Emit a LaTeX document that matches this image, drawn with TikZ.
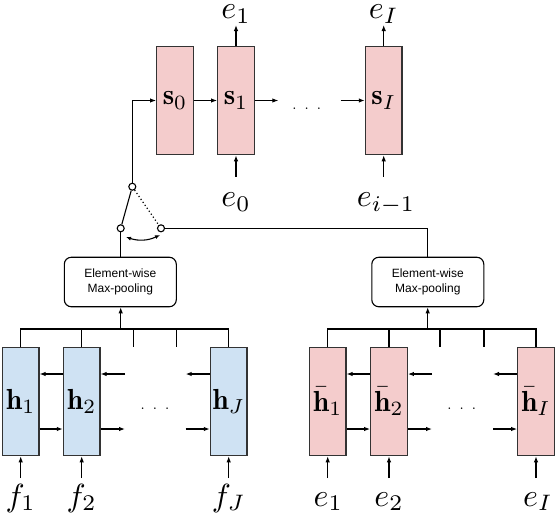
\documentclass[tikz,border=0pt]{standalone}
\usepackage{graphicx}
\usepackage{fontspec}
\usetikzlibrary{arrows.meta}
\newfontfamily\helv{Liberation Sans}
\definecolor{pinkc}{RGB}{244,204,204}
\definecolor{bluec}{RGB}{207,226,243}
\newcommand\cellt[1]{\scalebox{2.9}{$#1$}}
\newcommand\labt[1]{\scalebox{3.2}{$#1$}}
\newcommand\dotst{\scalebox{1.5}{.\hspace{5.4pt}.\hspace{5.4pt}.}}
\begin{document}
\begin{tikzpicture}[x=1pt,y=-1pt,
  cell/.style={draw=black!80, line width=1.2pt, minimum width=36.7pt, minimum height=108.4pt, inner sep=0pt},
  dec/.style={cell, fill=pinkc},
  enc/.style={cell, fill=bluec},
  pool/.style={draw=black, line width=1.1pt, rounded corners=7pt, minimum width=112pt, minimum height=49.5pt, align=center, inner sep=0pt, font=\helv\fontsize{12}{15.6}\selectfont},
  conn/.style={line width=1.1pt},
  arr/.style={conn, -{Latex[length=6pt,width=4.5pt]}},
  lab/.style={anchor=base, inner sep=0pt},
  sw/.style={circle, draw, line width=1.1pt, fill=white, minimum size=7pt, inner sep=0pt},
  dotsn/.style={inner sep=0pt}
]
\useasboundingbox (0,0) rectangle (556,514);
% decoder
\node[dec] (s0) at (175,100.5) {\cellt{\mathbf{s}_0}};
\node[dec] (s1) at (236,100.5) {\cellt{\mathbf{s}_1}};
\node[dec] (sI) at (383.7,100.5) {\cellt{\mathbf{s}_I}};
\node[dotsn] (dd) at (306.7,108.5) {\dotst};
\coordinate (d1) at (278.3,100.5);
\coordinate (d2) at (340.7,100.5);
\draw[arr] (s0) -- (s1);
\draw[arr] (s1) -- (d1);
\draw[arr] (d2) -- (sI);
\coordinate (o1) at (236,25);
\coordinate (oI) at (383.7,25);
\draw[arr] (s1) -- (o1);
\draw[arr] (sI) -- (oI);
\node[lab] (le1t) at (236,18.5) {\labt{e_1}};
\node[lab] (leIt) at (383.7,18.5) {\labt{e_I}};
\coordinate (i1) at (236,176.7);
\coordinate (iI) at (383.7,176.7);
\draw[arr] (i1) -- (s1);
\draw[arr] (iI) -- (sI);
\node[lab] (le0) at (236,206.7) {\labt{e_0}};
\node[lab] (lei) at (386,206.7) {\labt{e_{i-1}}};
% switch
\node[sw] (ct) at (132.3,186.7) {};
\node[sw] (cl) at (120.7,228.3) {};
\node[sw] (cr) at (161,228.3) {};
\draw[arr] (ct) |- (s0);
\draw[conn] (cl) -- (ct);
\draw[conn, line width=1.2pt, dash pattern=on 1.2pt off 2.4pt] (ct) -- (cr);
\coordinate (a1) at (126,237);
\coordinate (a2) at (160,235);
\draw[conn, {Latex[length=5pt,width=4pt]}-{Latex[length=5pt,width=4pt]}] (a1) to[bend right=22] (a2);
% pooling
\node[pool] (p1) at (120.3,282) {Element-wise\\Max-pooling};
\node[pool] (p2) at (427.8,282) {Element-wise\\Max-pooling};
\draw[conn] (cl) -- (cl |- p1.north);
\draw[conn] (cr) -| (p2);
% encoder left
\node[enc] (h1) at (20.7,401.5) {\cellt{\mathbf{h}_1}};
\node[enc] (h2) at (81.7,401.5) {\cellt{\mathbf{h}_2}};
\node[enc] (hJ) at (228.7,401.5) {\cellt{\mathbf{h}_J}};
\node[dotsn] (de) at (155,408.5) {\dotst};
\coordinate (bl) at (120.7,329);
\draw[conn] (h1.north) |- (hJ.north |- bl) -- (hJ.north);
\draw[conn] (h2.north) -- (h2.north |- bl);
\coordinate (t1) at (133.3,346.7);
\coordinate (t2) at (176.7,346.7);
\draw[conn] (t1) -- (t1 |- bl);
\draw[conn] (t2) -- (t2 |- bl);
\draw[arr] (bl) -- (bl |- p1.south);
\coordinate (hx1) at (125,374);
\coordinate (hx2) at (185.7,374);
\coordinate (hx3) at (125,429);
\coordinate (hx4) at (185.7,429);
\draw[arr] ([yshift=27.5pt]h2.west) -- ([yshift=27.5pt]h1.east);
\draw[arr] (hx1) -- (hx1 -| h2.east);
\draw[arr] ([yshift=27.5pt]hJ.west) -- (hx2);
\draw[arr] ([yshift=-27.5pt]h1.east) -- ([yshift=-27.5pt]h2.west);
\draw[arr] ([yshift=-27.5pt]h2.east) -- (hx3);
\draw[arr] (hx4) -- (hx4 -| hJ.west);
\coordinate (f1) at (20.7,478);
\coordinate (f2) at (81.7,478);
\coordinate (fJ) at (228.7,478);
\draw[arr] (f1) -- (h1);
\draw[arr] (f2) -- (h2);
\draw[arr] (fJ) -- (hJ);
\node[lab] (lf1) at (20.7,506) {\labt{f_1}};
\node[lab] (lf2) at (81.7,506) {\labt{f_2}};
\node[lab] (lfJ) at (228.7,506) {\labt{f_J}};
% encoder right
\node[dec] (b1) at (327.7,401.5) {\cellt{\bar{\mathbf{h}}_1}};
\node[dec] (b2) at (389,401.5) {\cellt{\bar{\mathbf{h}}_2}};
\node[dec] (bI) at (536,401.5) {\cellt{\bar{\mathbf{h}}_I}};
\node[dotsn] (db) at (461.7,408.5) {\dotst};
\coordinate (br) at (427.7,329);
\draw[conn] (b1.north) |- (bI.north |- br) -- (bI.north);
\draw[conn] (b2.north) -- (b2.north |- br);
\coordinate (t3) at (440,346.7);
\coordinate (t4) at (484,346.7);
\draw[conn] (t3) -- (t3 |- br);
\draw[conn] (t4) -- (t4 |- br);
\draw[arr] (br) -- (br |- p2.south);
\coordinate (bx1) at (432,374);
\coordinate (bx2) at (493,374);
\coordinate (bx3) at (432,429);
\coordinate (bx4) at (493,429);
\draw[arr] ([yshift=27.5pt]b2.west) -- ([yshift=27.5pt]b1.east);
\draw[arr] (bx1) -- (bx1 -| b2.east);
\draw[arr] ([yshift=27.5pt]bI.west) -- (bx2);
\draw[arr] ([yshift=-27.5pt]b1.east) -- ([yshift=-27.5pt]b2.west);
\draw[arr] ([yshift=-27.5pt]b2.east) -- (bx3);
\draw[arr] (bx4) -- (bx4 -| bI.west);
\coordinate (g1) at (327.7,478);
\coordinate (g2) at (389,478);
\coordinate (gI) at (536,478);
\draw[arr] (g1) -- (b1);
\draw[arr] (g2) -- (b2);
\draw[arr] (gI) -- (bI);
\node[lab] (lg1) at (328.3,506) {\labt{e_1}};
\node[lab] (lg2) at (389,506) {\labt{e_2}};
\node[lab] (lgI) at (538,506) {\labt{e_I}};
\end{tikzpicture}
\end{document}
